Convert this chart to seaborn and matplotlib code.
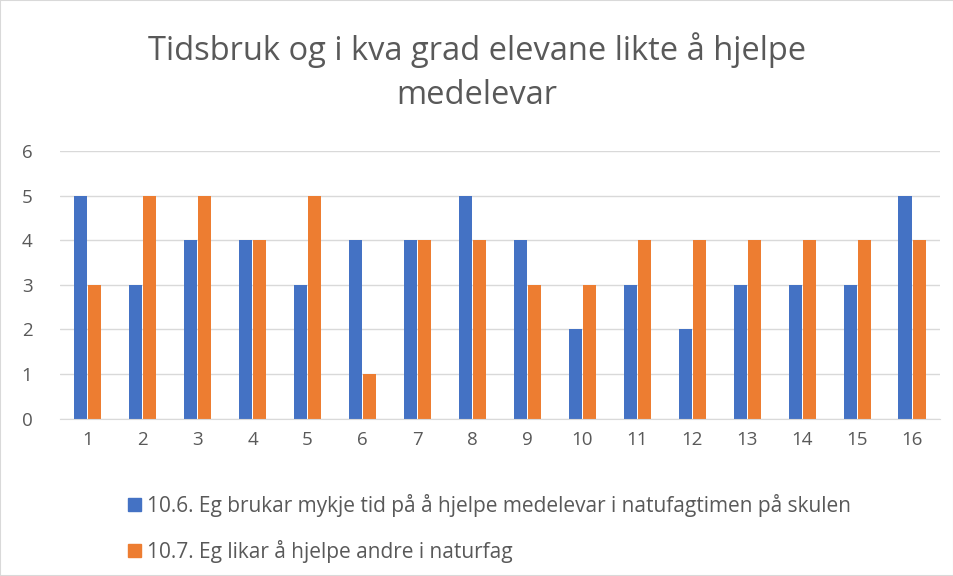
import pandas as pd
import matplotlib
matplotlib.use("Agg")
import matplotlib.pyplot as plt
from matplotlib.patches import Rectangle
import seaborn as sns

categories = [str(i) for i in range(1, 17)]
tid_values = [5, 3, 4, 4, 3, 4, 4, 5, 4, 2, 3, 2, 3, 3, 3, 5]
likar_values = [3, 5, 5, 4, 5, 1, 4, 4, 3, 3, 4, 4, 4, 4, 4, 4]
series_names = [
    "10.6. Eg brukar mykje tid på å hjelpe medelevar i natufagtimen på skulen",
    "10.7. Eg likar å hjelpe andre i naturfag",
]
title = "Tidsbruk og i kva grad elevane likte å hjelpe\nmedelevar"

df = pd.DataFrame({
    "kategori": categories * 2,
    "verdi": tid_values + likar_values,
    "serie": [series_names[0]] * len(categories) + [series_names[1]] * len(categories),
})

sns.set_style("white")
plt.rcParams["font.family"] = ["Open Sans", "DejaVu Sans"]

fig = plt.figure(figsize=(9.54, 5.76), dpi=100)
ax = fig.add_axes([0.063, 0.273, 0.922, 0.465])

palette = {series_names[0]: "#4472C4", series_names[1]: "#ED7D31"}
sns.barplot(data=df, x="kategori", y="verdi", hue="serie", palette=palette,
            width=0.52, gap=0.08, ax=ax, legend=False, saturation=1, linewidth=0)

ax.set_ylim(0, 6)
ax.set_yticks(range(0, 7))
ax.yaxis.grid(True, color="#d9d9d9", linewidth=1)
ax.set_axisbelow(True)
for s in ["top", "right", "left"]:
    ax.spines[s].set_visible(False)
ax.spines["bottom"].set_color("#d9d9d9")
ax.set_xlabel("")
ax.set_ylabel("")
ax.tick_params(axis="both", length=0, labelsize=13.5, labelcolor="#595959")
ax.tick_params(axis="x", pad=9)
ax.tick_params(axis="y", pad=20)

fig.suptitle(title, fontsize=23.5, color="#595959", y=0.945, linespacing=1.45)

handles = [Rectangle((0, 0), 1, 1, color=palette[n]) for n in series_names]
fig.legend(handles, series_names, loc="upper left", bbox_to_anchor=(0.115, 0.175),
           ncol=1, frameon=False, fontsize=15, labelcolor="#595959",
           handlelength=0.6, handleheight=0.6, handletextpad=0.3, labelspacing=1.1)

fig.patches.append(Rectangle((0, 0), 1, 1, transform=fig.transFigure, fill=False,
                             edgecolor="#d9d9d9", linewidth=1.5))

fig.savefig("out.png", dpi=100)
